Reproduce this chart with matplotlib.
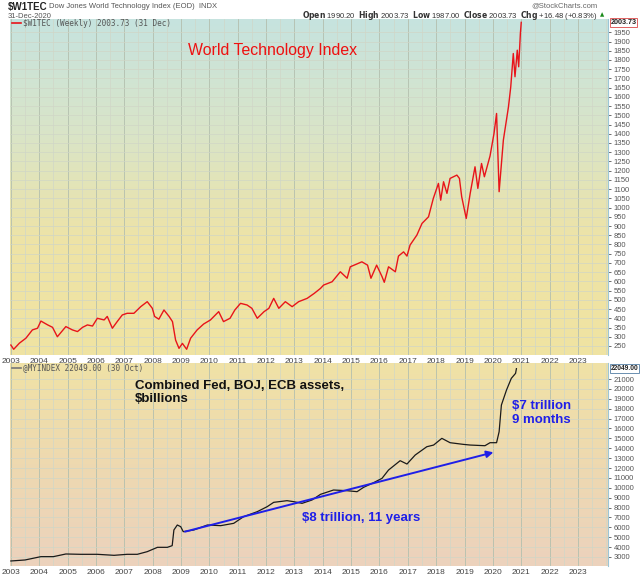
import numpy as np
import matplotlib
matplotlib.use("Agg")
import matplotlib.pyplot as plt
from matplotlib.colors import LinearSegmentedColormap
from matplotlib.ticker import MultipleLocator

plt.rcParams['font.family'] = ['Liberation Sans', 'DejaVu Sans']

# ---------------- data ----------------
tec_years = [2003.00, 2003.10, 2003.30, 2003.53, 2003.76, 2003.94, 2004.06, 2004.30, 2004.47, 2004.64,
             2004.94, 2005.17, 2005.35, 2005.53, 2005.70, 2005.88, 2006.05, 2006.29, 2006.40, 2006.58,
             2006.75, 2006.93, 2007.10, 2007.34, 2007.58, 2007.81, 2007.99, 2008.07, 2008.22, 2008.40,
             2008.58, 2008.70, 2008.81, 2008.93, 2009.05, 2009.20, 2009.34, 2009.57, 2009.80, 2010.04,
             2010.33, 2010.50, 2010.73, 2010.90, 2011.10, 2011.33, 2011.50, 2011.69, 2011.93, 2012.10,
             2012.27, 2012.45, 2012.68, 2012.92, 2013.15, 2013.45, 2013.70, 2013.92, 2014.03, 2014.33,
             2014.62, 2014.86, 2014.97, 2015.38, 2015.58, 2015.70, 2015.90, 2016.09, 2016.17, 2016.32,
             2016.56, 2016.67, 2016.85, 2016.97, 2017.08, 2017.32, 2017.50, 2017.73, 2017.90, 2018.08,
             2018.16, 2018.26, 2018.38, 2018.49, 2018.73, 2018.82, 2018.90, 2019.06, 2019.20, 2019.37,
             2019.47, 2019.60, 2019.70, 2019.90, 2020.04, 2020.13, 2020.22, 2020.37, 2020.55, 2020.63,
             2020.72, 2020.78, 2020.86, 2020.91, 2020.97, 2021.00]
tec_values = [255, 232, 265, 292, 337, 346, 385, 364, 351, 300,
              355, 337, 328, 351, 364, 358, 400, 391, 410, 346,
              382, 418, 427, 427, 463, 490, 454, 410, 395, 445,
              410, 382, 282, 237, 264, 232, 292, 337, 369, 391,
              436, 382, 400, 445, 481, 472, 454, 400, 436, 454,
              508, 454, 490, 463, 490, 508, 535, 562, 580, 598,
              652, 617, 679, 706, 688, 617, 688, 626, 595, 679,
              652, 737, 760, 737, 797, 851, 914, 950, 1050, 1131,
              1040, 1140, 1077, 1158, 1176, 1158, 1059, 941, 1077, 1221,
              1104, 1239, 1167, 1280, 1402, 1510, 1086, 1366, 1546, 1654,
              1835, 1709, 1853, 1763, 1944, 2003.73]

cb_years = [2003.00, 2003.50, 2004.06, 2004.50, 2004.94, 2005.46, 2006.05, 2006.64, 2007.10, 2007.46,
            2007.81, 2008.17, 2008.52, 2008.69, 2008.75, 2008.87, 2008.99, 2009.08, 2009.45, 2009.93,
            2010.40, 2010.86, 2011.21, 2011.69, 2012.04, 2012.27, 2012.74, 2012.98, 2013.27, 2013.62,
            2013.92, 2014.38, 2014.85, 2015.21, 2015.44, 2015.79, 2016.09, 2016.32, 2016.73, 2016.97,
            2017.26, 2017.67, 2017.91, 2018.20, 2018.49, 2018.96, 2019.20, 2019.72, 2019.90, 2020.13,
            2020.22, 2020.30, 2020.48, 2020.65, 2020.80, 2020.83]
cb_values = [2596, 2697, 3034, 3034, 3303, 3270, 3270, 3168, 3270, 3270,
             3539, 3977, 3977, 4146, 5730, 6235, 6067, 5562, 5730, 6235,
             6168, 6404, 7078, 7583, 8089, 8527, 8696, 8594, 8426, 8763,
             9336, 9774, 9707, 9606, 10044, 10513, 10955, 11796, 12740, 12402,
             13312, 14153, 14322, 15000, 14560, 14390, 14322, 14255, 14560, 14560,
             15668, 18367, 19884, 21067, 21573, 22049]

arrow_start = (2009.14, 5560)
arrow_end = (2020.02, 13585)

year_ticks = list(range(2003, 2024))
tec_ticks = list(range(250, 2000, 50))
cb_ticks = list(range(3000, 22000, 1000))

# ---------------- figure ----------------
W, H = 640, 576
fig = plt.figure(figsize=(W / 100, H / 100), dpi=100)
fig.patch.set_facecolor('white')

def px_axes(x0, y0, x1, y1):
    return fig.add_axes([x0 / W, 1 - y1 / H, (x1 - x0) / W, (y1 - y0) / H])

ax1 = px_axes(10, 19, 608, 355)
ax2 = px_axes(10, 363, 608, 566)

XLIM = (2002.97, 2024.06)

def style(ax, cols, ylim, ticks):
    cmap = LinearSegmentedColormap.from_list('g', cols)
    grad = np.linspace(0, 1, 256).reshape(-1, 1)
    ax.imshow(grad, cmap=cmap, aspect='auto', extent=[0, 1, 0, 1],
              transform=ax.transAxes, zorder=0, origin='upper')
    ax.set_xlim(*XLIM)
    ax.set_ylim(*ylim)
    ax.set_xticks(year_ticks)
    ax.set_xticklabels([str(y) for y in year_ticks])
    ax.xaxis.set_minor_locator(MultipleLocator(0.5))
    ax.set_yticks(ticks)
    ax.set_yticklabels([str(t) for t in ticks])
    ax.yaxis.tick_right()
    ax.tick_params(axis='y', labelsize=5.5, colors='#555555', length=2, width=0.6, pad=2)
    ax.tick_params(axis='x', which='both', length=0, labelsize=6, colors='#444444', pad=2)
    ax.grid(True, which='major', axis='x', color='#b3bfae', lw=0.6, zorder=1)
    ax.grid(True, which='minor', axis='x', color='#d0d7c8', lw=0.5, zorder=1)
    ax.grid(True, which='major', axis='y', color='#d0d6c6', lw=0.5, zorder=1)
    for s in ['top', 'left', 'bottom']:
        ax.spines[s].set_visible(False)
    ax.spines['right'].set_color('#9cc6d6')
    ax.spines['right'].set_linewidth(0.8)

style(ax1, ['#c6e3df', '#d9e5c8', '#eee3a6', '#f0e3a2'], (201, 2022), tec_ticks)
style(ax2, ['#f0e2a6', '#eed9b0', '#ecd2bd'], (2088, 22621), cb_ticks)

ax1.plot(tec_years, tec_values, color='#e8141a', lw=1.0, zorder=3)
ax2.plot(cb_years, cb_values, color='#1a1a1a', lw=0.9, zorder=3)

ax2.annotate('', xy=arrow_end, xytext=arrow_start,
             arrowprops=dict(arrowstyle='-|>', color='#1f1fe8', lw=1.4,
                             mutation_scale=10, shrinkA=0, shrinkB=0), zorder=4)

# annotations
ax1.text(0.298, 0.905, 'World Technology Index', transform=ax1.transAxes,
         color='#ee1111', fontsize=11.4, va='center', ha='left')
ax2.text(0.209, 0.855, 'Combined Fed, BOJ, ECB assets,\n$billions', transform=ax2.transAxes,
         color='#111111', fontsize=9.5, fontweight='bold', va='center', ha='left', linespacing=1.2)
ax2.text(0.489, 0.235, '$8 trillion, 11 years', transform=ax2.transAxes,
         color='#1f1fe8', fontsize=9.5, fontweight='bold', va='center', ha='left')
ax2.text(0.84, 0.755, '$7 trillion\n9 months', transform=ax2.transAxes,
         color='#1f1fe8', fontsize=9.5, fontweight='bold', va='center', ha='left', linespacing=1.2)

# legends inside panels
ax1.plot([0.004, 0.018], [0.988, 0.988], transform=ax1.transAxes, color='#e8141a', lw=1.2, zorder=5)
ax1.text(0.022, 0.988, '$W1TEC (Weekly) 2003.73 (31 Dec)', transform=ax1.transAxes,
         fontsize=5.5, color='#555555', va='center', ha='left', family='DejaVu Sans Mono')
ax2.plot([0.004, 0.018], [0.975, 0.975], transform=ax2.transAxes, color='#777777', lw=1.2, zorder=5)
ax2.text(0.022, 0.975, '@MYINDEX 22049.00 (30 Oct)', transform=ax2.transAxes,
         fontsize=5.5, color='#555555', va='center', ha='left', family='DejaVu Sans Mono')

# last-value boxes on right axis
ax1.text(1.004, 2003.73, '2003.73', transform=ax1.get_yaxis_transform(), fontsize=5.2,
         fontweight='bold', color='#222222', va='center', ha='left',
         bbox=dict(boxstyle='square,pad=0.12', fc='white', ec='#e06060', lw=0.7))
ax2.text(1.004, 22049, '22049.00', transform=ax2.get_yaxis_transform(), fontsize=4.8,
         fontweight='bold', color='#222222', va='center', ha='left',
         bbox=dict(boxstyle='square,pad=0.12', fc='white', ec='#6a8fb0', lw=0.7))

# header
fig.text(8 / W, 1 - 7 / H, '$W1TEC', fontsize=7, fontweight='bold', color='#222222', va='center')
fig.text(49 / W, 1 - 7 / H, 'Dow Jones World Technology Index (EOD)  INDX', fontsize=5.5,
         color='#555555', va='center')
fig.text(8 / W, 1 - 16 / H, '31-Dec-2020', fontsize=5.5, color='#555555', va='center')
fig.text(597 / W, 1 - 6 / H, '@StockCharts.com', fontsize=5.5, color='#666666', va='center', ha='right')
fig.text(597 / W, 1 - 15 / H,
         r'$\bf{Open}$ 1990.20  $\bf{High}$ 2003.73  $\bf{Low}$ 1987.00  $\bf{Close}$ 2003.73  $\bf{Chg}$ +16.48 (+0.83%)',
         fontsize=5.5, color='#333333', va='center', ha='right')
fig.text(600 / W, 1 - 15 / H, '\u25b2', fontsize=4, color='#1a8a1a', va='center', ha='left',
         family='DejaVu Sans')

fig.savefig('out.png', dpi=100)
